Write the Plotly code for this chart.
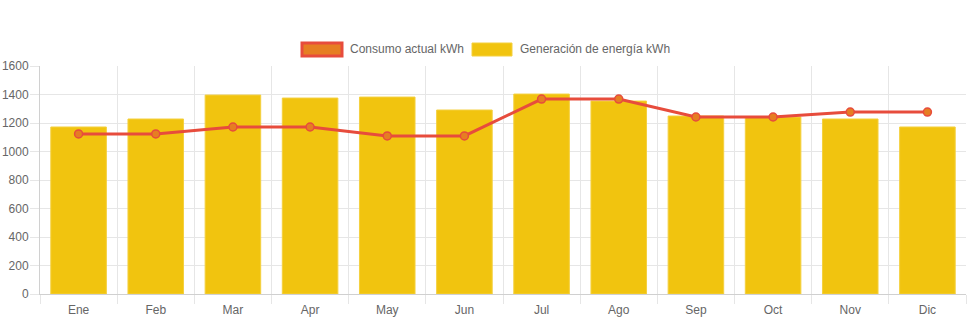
import plotly.graph_objects as go

months = ["Ene", "Feb", "Mar", "Apr", "May", "Jun", "Jul", "Ago", "Sep", "Oct", "Nov", "Dic"]
generacion = [1172, 1228, 1396, 1375, 1382, 1291, 1403, 1354, 1249, 1242, 1228, 1172]
consumo = [1123, 1123, 1172, 1172, 1109, 1109, 1368, 1368, 1242, 1242, 1277, 1277]
series_names = ["Consumo actual kWh", "Generación de energía kWh"]

FONT = "Liberation Sans, Arial, sans-serif"
GRID = "#e6e6e6"
W, H = 971, 323
ML, MR, MT, MB = 40, 5, 66, 29


def px_x(px):
    return (px - ML) / (W - ML - MR)


def px_y(py):
    return (H - MB - py) / (H - MT - MB)


fig = go.Figure()
fig.add_trace(go.Bar(
    x=months, y=generacion, name=series_names[1],
    marker=dict(color="#f1c40f", line=dict(color="#f4d03f", width=1)),
    showlegend=False,
))
fig.add_trace(go.Scatter(
    x=months, y=consumo, name=series_names[0], mode="lines+markers",
    line=dict(color="#e74c3c", width=3),
    marker=dict(color="#e67e22", size=8, line=dict(color="#e74c3c", width=1.5)),
    showlegend=False,
))

# Chart.js-style legend (boxes + labels)
legend_items = [
    (series_names[0], "#e67e22", "#e74c3c", 3, 302, 342),
    (series_names[1], "#f1c40f", "#f4d03f", 1, 472, 512),
]
shapes, annotations = [], []
for name, fill, border, bw, x0, x1 in legend_items:
    shapes.append(dict(type="rect", xref="paper", yref="paper",
                       x0=px_x(x0), x1=px_x(x1), y0=px_y(56), y1=px_y(43),
                       fillcolor=fill, line=dict(color=border, width=bw)))
    annotations.append(dict(text=name, xref="paper", yref="paper",
                            x=px_x(x1 + 6), y=px_y(49.5), xanchor="left", yanchor="middle",
                            showarrow=False, font=dict(family=FONT, size=12, color="#666666")))

fig.update_layout(
    width=W, height=H,
    margin=dict(l=ML, r=MR, t=MT, b=MB),
    paper_bgcolor="white", plot_bgcolor="white",
    font=dict(family=FONT, size=12, color="#666666"),
    barmode="overlay", bargap=0.28,
    showlegend=False,
    shapes=shapes, annotations=annotations,
)
fig.update_xaxes(
    type="category", range=[-0.5, len(months) - 0.5],
    tickson="boundaries", showgrid=True, gridcolor=GRID,
    ticks="outside", ticklen=9, tickcolor=GRID, automargin=False,
    ticklabelstandoff=5,
    showline=True, linecolor="#d0d0d0", linewidth=1,
    tickfont=dict(size=12, color="#666666"),
)
fig.update_yaxes(
    range=[0, 1600], dtick=200, showgrid=True, gridcolor=GRID,
    ticks="outside", ticklen=9, tickcolor=GRID, automargin=False,
    ticklabelstandoff=-1,
    showline=True, linecolor="#d0d0d0", linewidth=1,
    zeroline=False, tickfont=dict(size=12, color="#666666"),
)

fig.write_html("out.html")
